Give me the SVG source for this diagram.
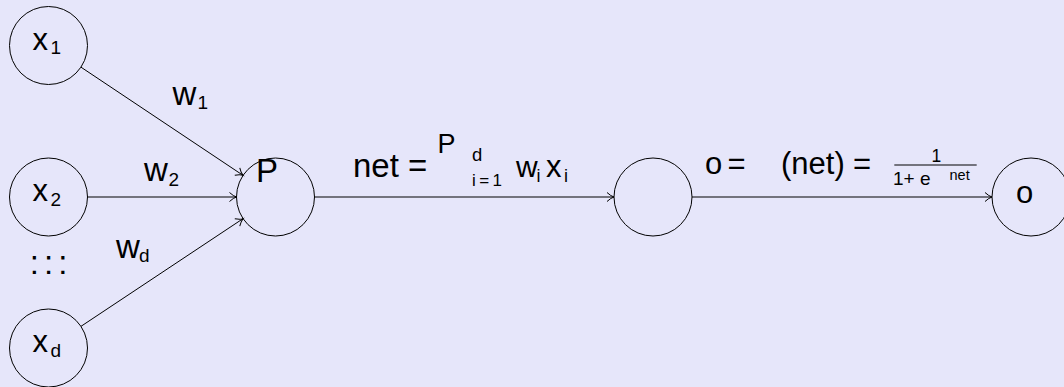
<svg xmlns="http://www.w3.org/2000/svg" width="1064" height="387" viewBox="0 0 1064 387">
<style>
.bg{fill:#e6e6fa}
.n{fill:none;stroke:#000;stroke-width:1}
.c{fill:none;stroke:#000;stroke-width:1}
text{font-family:"Liberation Sans",Arial,sans-serif;fill:#000}
.m{font-size:31px}
.w{font-size:33px}
.s{font-size:19px}
</style>
<defs>
<marker id="ah" markerUnits="userSpaceOnUse" viewBox="-9 -6 10 12" markerWidth="10" markerHeight="12" refX="0" refY="0" orient="auto" overflow="visible">
<path d="M-7,-4.5 Q-3,-0.8 0,0 Q-3,0.8 -7,4.5" fill="none" stroke="#000" stroke-width="1"/>
</marker>
</defs>
<rect class="bg" x="0" y="0" width="1064" height="387"/>
<g id="connectors">
<line class="c" x1="80.9" y1="67.1" x2="243.1" y2="175.4" marker-end="url(#ah)"/>
<line class="c" x1="87.5" y1="197" x2="236.5" y2="197" marker-end="url(#ah)"/>
<line class="c" x1="80.9" y1="326.4" x2="243.1" y2="218.6" marker-end="url(#ah)"/>
<line class="c" x1="314.5" y1="197" x2="614" y2="197" marker-end="url(#ah)"/>
<line class="c" x1="692" y1="197" x2="992" y2="197" marker-end="url(#ah)"/>
</g>
<g id="labels">
<text class="w" x="172.5" y="105">w</text><text class="s" x="197.5" y="109.3">1</text>
<text class="w" x="144" y="180.7">w</text><text class="s" x="168.5" y="186">2</text>
<text class="w" x="116" y="258.3">w</text><text class="s" x="139" y="262">d</text>
<text x="353" y="177.3" style="font-size:33px">net =</text>
<text x="437.5" y="153.3" style="font-size:27px">P</text>
<text x="472" y="160.7" style="font-size:18.5px">d</text>
<text x="472" y="186" style="font-size:17px" textLength="30" lengthAdjust="spacing">i=1</text>
<text x="516" y="177.3" style="font-size:30px">w</text><text x="536.5" y="181.5" style="font-size:18px">i</text>
<text x="546" y="177.3" style="font-size:31px">x</text><text x="564" y="181.5" style="font-size:18px">i</text>
<text class="m" x="705" y="174">o</text><text class="m" x="727.5" y="174">=</text>
<text class="m" x="781" y="174">(net)</text><text class="m" x="853" y="174">=</text>
<line x1="894.3" y1="165" x2="976.7" y2="165" stroke="#000" stroke-width="1"/>
<text x="931.5" y="161.7" style="font-size:17.5px">1</text>
<text x="893" y="185" style="font-size:19px">1+ e</text>
<text x="949.5" y="180" style="font-size:14.5px">net</text>
</g>
<g id="dots">
<text x="29.7" y="274.4" style="font-size:33px" letter-spacing="5.1">:::</text>
</g>
<g id="x1"><circle class="n" cx="48.5" cy="45.5" r="39"/><text class="m" x="32.5" y="50">x</text><text class="s" x="50.5" y="54.3">1</text></g>
<g id="x2"><circle class="n" cx="48.5" cy="197" r="39"/><text class="m" x="32.5" y="200.7">x</text><text class="s" x="50.5" y="206">2</text></g>
<g id="xd"><circle class="n" cx="48.5" cy="348" r="39"/><text class="m" x="32.5" y="352.3">x</text><text class="s" x="50.5" y="357.3">d</text></g>
<g id="sum"><circle class="n" cx="275.5" cy="197" r="39"/><text x="256" y="181.7" style="font-size:33px">P</text></g>
<g id="sigma"><circle class="n" cx="653" cy="197" r="39"/></g>
<g id="out"><circle class="n" cx="1031" cy="197" r="39"/><text class="m" x="1016" y="203.3">o</text></g>
</svg>
